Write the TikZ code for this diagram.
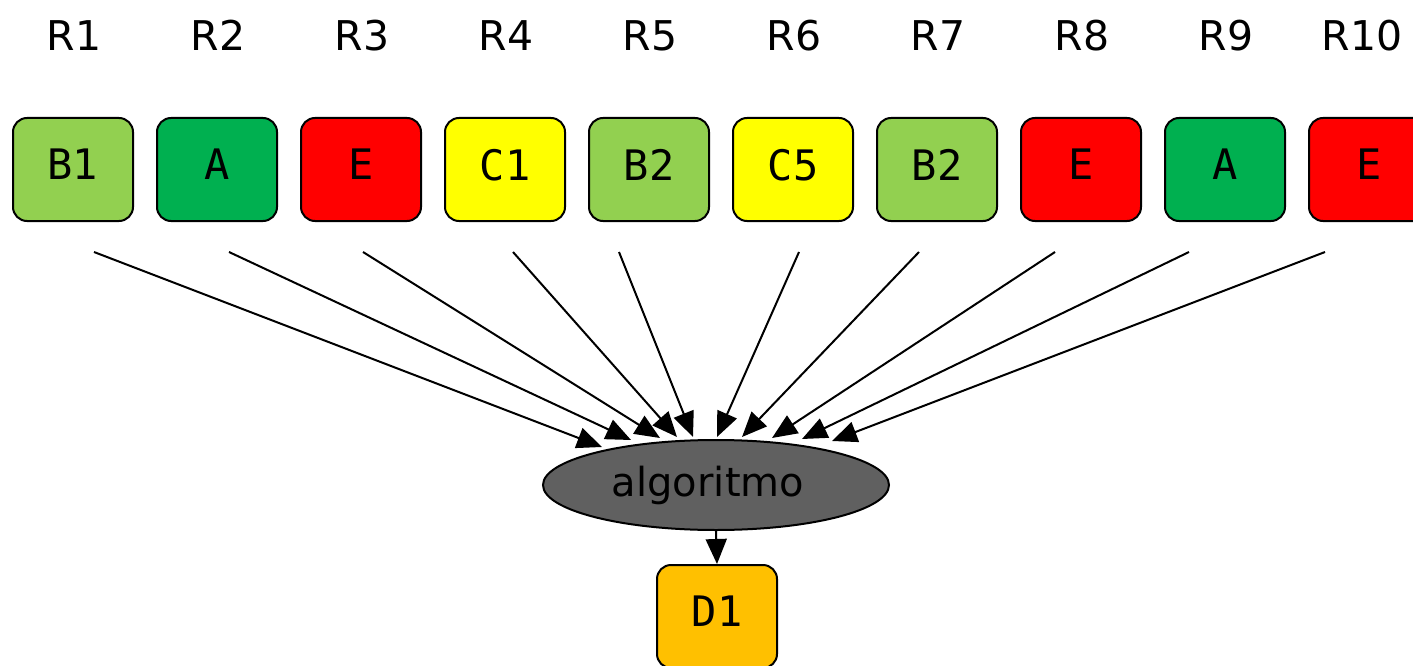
\documentclass[tikz,border=0pt]{standalone}
\usepackage{fontspec}
\setmainfont{DejaVu Sans}
\newfontfamily\boxfont{DejaVu Sans Mono}
\usetikzlibrary{arrows.meta,shapes.geometric}
\definecolor{lgreen}{HTML}{92D050}
\definecolor{dgreen}{HTML}{00B050}
\definecolor{cred}{HTML}{FF0000}
\definecolor{cyellow}{HTML}{FFFF00}
\definecolor{corange}{HTML}{FFC000}
\definecolor{cgray}{HTML}{606060}
\tikzset{
  valbox/.style={draw=black, line width=2pt, rounded corners=14pt, minimum width=120pt, minimum height=103pt, inner sep=0pt, text depth=10pt, font=\boxfont\fontsize{42}{44}\selectfont},
  rlabel/.style={inner sep=0pt, anchor=base, font=\fontsize{41}{44}\selectfont},
  conn/.style={line width=2pt, -{Triangle[length=25pt,width=21pt]}},
}
\begin{document}
\begin{tikzpicture}[x=1pt,y=-1pt]
\useasboundingbox (0,0) rectangle (1413,666);
\clip (0,0) rectangle (1413,666);
% labels
\foreach \i/\x in {1/74,2/218,3/362,4/506,5/650,6/794,7/938,8/1082,9/1226,10/1362}
  \node[rlabel] (r\i) at (\x,51) {R\i};
% boxes
\node[valbox, fill=lgreen]  (b1)  at (73,169.5)   {B1};
\node[valbox, fill=dgreen]  (b2)  at (217,169.5)  {A};
\node[valbox, fill=cred]    (b3)  at (361,169.5)  {E};
\node[valbox, fill=cyellow] (b4)  at (505,169.5)  {C1};
\node[valbox, fill=lgreen]  (b5)  at (649,169.5)  {B2};
\node[valbox, fill=cyellow] (b6)  at (793,169.5)  {C5};
\node[valbox, fill=lgreen]  (b7)  at (937,169.5)  {B2};
\node[valbox, fill=cred]    (b8)  at (1081,169.5) {E};
\node[valbox, fill=dgreen]  (b9)  at (1225,169.5) {A};
\node[valbox, fill=cred]    (b10) at (1369,169.5) {E};
% algorithm
\node[ellipse, draw=black, line width=2pt, fill=cgray, minimum width=346pt, minimum height=90pt, inner sep=0pt, font=\fontsize{40}{42}\selectfont] (alg) at (716,485) {\raisebox{-3pt}{algoritmo}\hspace*{16pt}};
\node[valbox, fill=corange] (d1) at (717,616.5) {D1};
% start points
\foreach \i/\x in {1/94,2/229,3/363,4/513,5/619,6/799,7/919,8/1055,9/1189,10/1325}
  \coordinate (s\i) at (\x,252);
% end points
\coordinate (e1) at (602,447);
\coordinate (e2) at (631,440);
\coordinate (e3) at (660,438);
\coordinate (e4) at (677,437);
\coordinate (e5) at (693,437);
\coordinate (e6) at (717,437);
\coordinate (e7) at (742,437);
\coordinate (e8) at (772,438);
\coordinate (e9) at (802,439);
\coordinate (e10) at (832,441);
\foreach \i in {1,...,10}
  \draw[conn] (s\i) -- (e\i);
\draw[conn] (alg.south) -- (d1.north);
\end{tikzpicture}
\end{document}
